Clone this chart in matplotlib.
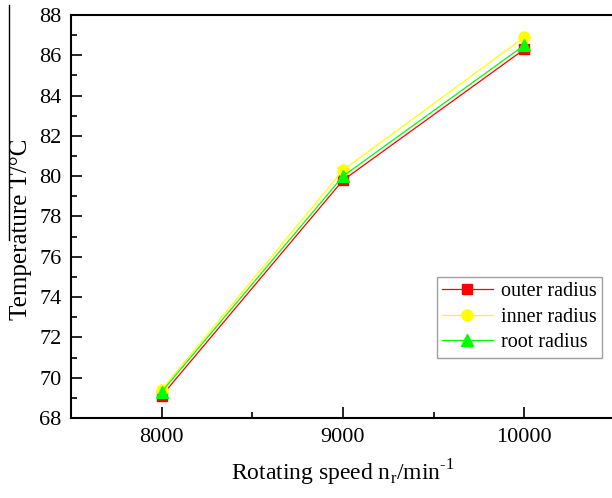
import matplotlib
matplotlib.use("Agg")
import matplotlib.pyplot as plt
from matplotlib.ticker import MultipleLocator
from matplotlib.lines import Line2D

plt.rcParams['font.family'] = ['Liberation Serif', 'DejaVu Serif']
plt.rcParams['mathtext.fontset'] = 'custom'
plt.rcParams['mathtext.rm'] = 'Liberation Serif'

speed = [8000, 9000, 10000]
outer = [69.1, 79.8, 86.3]
inner = [69.4, 80.3, 86.9]
root = [69.3, 80.0, 86.5]

fig = plt.figure(figsize=(6.12, 4.98), dpi=100)
W, H = 612, 498
l, r, t, b = 71, 615, 15, 418
ax = fig.add_axes([l / W, 1 - b / H, (r - l) / W, (b - t) / H])

ax.plot(speed, outer, color='#ff0000', lw=0.9, marker='s', ms=7, label='outer radius')
ax.plot(speed, inner, color='#ffff00', lw=0.9, marker='o', ms=8, label='inner radius')
ax.plot(speed, root, color='#00ff00', lw=0.9, marker='^', ms=8, label='root radius')

ax.set_xlim(7500, 10500)
ax.set_ylim(68, 88)
ax.set_xticks([8000, 9000, 10000])
ax.xaxis.set_minor_locator(MultipleLocator(500))
ax.set_yticks(range(68, 89, 2))
ax.yaxis.set_minor_locator(MultipleLocator(1))
ax.tick_params(axis='both', which='major', direction='in', length=8, width=1.2,
               labelsize=16, pad=7)
ax.tick_params(axis='both', which='minor', direction='in', length=4.5, width=1.2)
ax.tick_params(axis='x', which='major', pad=7)
for s in ax.spines.values():
    s.set_linewidth(1.5)
ax.spines['right'].set_visible(False)

ax.set_xlabel('Rotating speed n$_\\mathregular{r}$/min$^\\mathregular{\u20101}$',
              fontsize=17, labelpad=8)
fig.text(21 / W, 1 - 229 / H, 'Temperature T/°C', rotation=90, fontsize=18,
         ha='center', va='center')
fig.add_artist(Line2D([9 / W, 9 / W], [1 - 5 / H, 1 - 240 / H], color='black', lw=1.0))

leg = ax.legend(loc='lower right', bbox_to_anchor=((602 - l) / (r - l), 1 - (358 - t) / (b - t)),
                fontsize=14.5, frameon=True, fancybox=False, edgecolor='#888888',
                handlelength=2.5, borderpad=0.28, labelspacing=0.32, handletextpad=0.4,
                borderaxespad=0)
leg.get_frame().set_linewidth(1.0)

fig.savefig('out.png', dpi=100)
